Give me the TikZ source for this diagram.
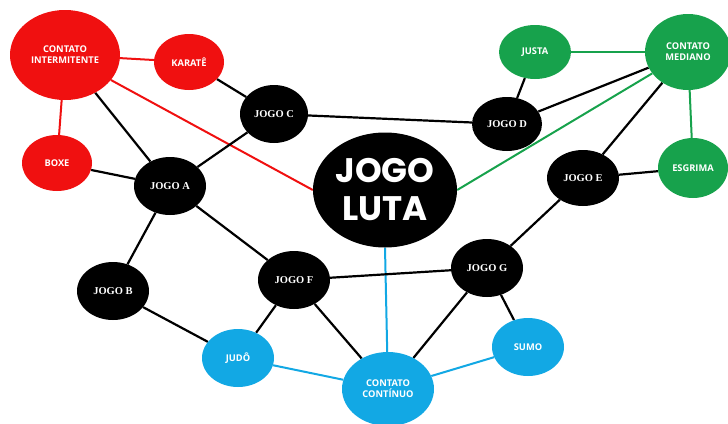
\documentclass[tikz,border=0pt]{standalone}
\usepackage{fontspec}
\setmainfont{Liberation Serif}
\newfontfamily\sansb{Open Sans}
\newfontfamily\lutafont{Poppins}
\definecolor{cred}{HTML}{F01010}
\definecolor{cgreen}{HTML}{17A24C}
\definecolor{cblue}{HTML}{12A8E4}
\usetikzlibrary{shapes.geometric,backgrounds}
\tikzset{
  base/.style={ellipse, inner sep=0pt, align=center, text=white},
  jogo/.style={base, fill=black, minimum width=72pt, minimum height=58pt, font=\bfseries\fontsize{10.5}{12}\selectfont},
  red node/.style={base, fill=cred, font=\sansb\bfseries\fontsize{9.3}{11}\selectfont},
  green node/.style={base, fill=cgreen, font=\sansb\bfseries\fontsize{9.3}{11}\selectfont},
  blue node/.style={base, fill=cblue, font=\sansb\bfseries\fontsize{9.3}{11}\selectfont},
  bl/.style={line width=2.2pt, black},
  rl/.style={line width=2pt, cred},
  gl/.style={line width=2pt, cgreen},
  cl/.style={line width=2pt, cblue},
}
\begin{document}
\begin{tikzpicture}[x=1pt,y=-1pt]
\useasboundingbox (0,0) rectangle (728,423);
% red
\node[red node, minimum width=110pt, minimum height=90pt] (ci) at (65,55) {CONTATO\\INTERMITENTE};
\node[red node, minimum width=70pt, minimum height=56pt] (karate) at (189,62) {KARATÊ};
\node[red node, minimum width=70pt, minimum height=56pt] (boxe) at (57,163) {BOXE};
% green
\node[green node, minimum width=72pt, minimum height=54pt] (justa) at (535,52) {JUSTA};
\node[green node, minimum width=86pt, minimum height=76pt] (cm) at (688,52) {CONTATO\\MEDIANO};
\node[green node, minimum width=70pt, minimum height=60pt] (esgrima) at (693,168) {ESGRIMA};
% blue
\node[blue node, minimum width=72pt, minimum height=58pt] (judo) at (238,358) {JUDÔ};
\node[blue node, minimum width=72pt, minimum height=58pt] (sumo) at (528,347) {SUMO};
\node[blue node, minimum width=92pt, minimum height=74pt] (cc) at (388,389) {CONTATO\\CONTÍNUO};
% black
\node[jogo, minimum width=144pt, minimum height=115pt, font=\lutafont\bfseries\fontsize{34}{38}\selectfont] (luta) at (385,190) {JOGO\\LUTA};
\node[jogo, minimum width=68pt] (c) at (274,114) {JOGO C};
\node[jogo] (a) at (170,186) {JOGO A};
\node[jogo, minimum width=70pt, minimum height=54pt] (d) at (507,124) {JOGO D};
\node[jogo, minimum width=72pt, minimum height=56pt] (e) at (583,178) {JOGO E};
\node[jogo] (b) at (113,291) {JOGO B};
\node[jogo] (f) at (294,280) {JOGO F};
\node[jogo] (g) at (487,268) {JOGO G};
% connectors
\begin{scope}[on background layer]
\draw[rl] (ci) -- (karate);
\draw[rl] (ci) -- (boxe);
\draw[rl] (ci) -- (luta.west);
\draw[gl] (justa) -- (cm);
\draw[gl] (cm) -- (esgrima);
\draw[gl] (cm) -- (luta.east);
\draw[cl] (judo) -- (cc);
\draw[cl] (sumo) -- (cc);
\draw[cl] (luta.south) -- (cc);
\draw[bl] (ci) -- (a);
\draw[bl] (boxe) -- (a);
\draw[bl] (karate) -- (c);
\draw[bl] (c) -- (a);
\draw[bl] (c) -- (d);
\draw[bl] (a) -- (b);
\draw[bl] (a) -- (f);
\draw[bl] (b) -- (judo);
\draw[bl] (f) -- (judo);
\draw[bl] (f) -- (cc);
\draw[bl] (f) -- (g);
\draw[bl] (g) -- (cc);
\draw[bl] (g) -- (sumo);
\draw[bl] (g) -- (e);
\draw[bl] (e) -- (esgrima);
\draw[bl] (e) -- (cm);
\draw[bl] (d) -- (justa);
\draw[bl] (d) -- (cm);
\end{scope}
\end{tikzpicture}
\end{document}
